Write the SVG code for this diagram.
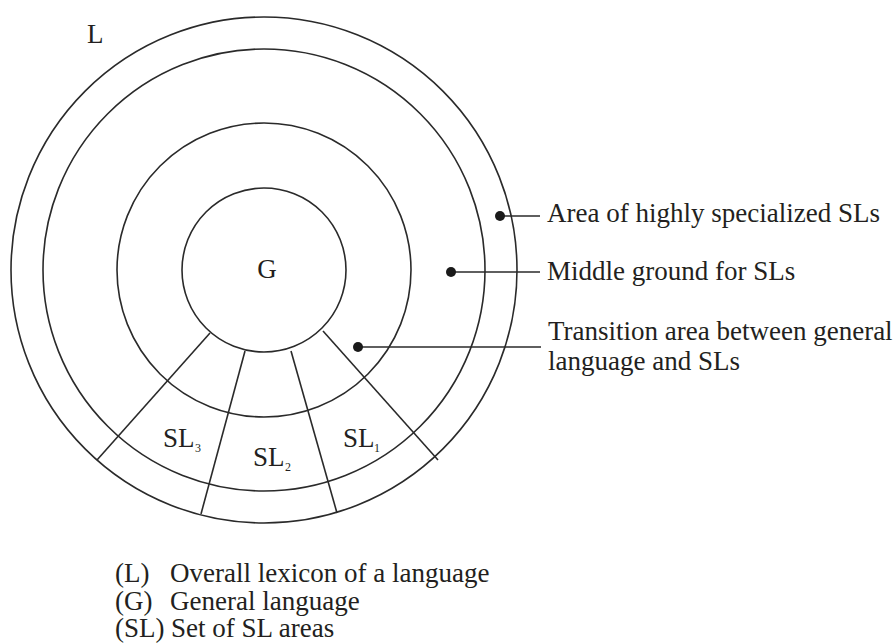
<svg xmlns="http://www.w3.org/2000/svg" width="894" height="644" viewBox="0 0 894 644">
<style>
.c{fill:none;stroke:#2a2a2a;stroke-width:1.6}
.l{stroke:#2a2a2a;stroke-width:1.6;fill:none}
.d{fill:#1a1a1a}
text{font-family:"Liberation Serif","Times New Roman",serif;font-size:27px;fill:#231f20}
.s{font-size:12px}
</style>
<rect width="894" height="644" fill="#fff"/>
<g id="rings">
<circle id="outer" class="c" cx="264" cy="270" r="253"/>
<circle id="ring2" class="c" cx="264" cy="270" r="221"/>
<circle id="ring3" class="c" cx="264" cy="270" r="147"/>
</g>
<g id="G"><circle class="c" cx="264" cy="270" r="82"/><text x="267" y="278" text-anchor="middle">G</text></g>
<g id="L"><text x="87" y="43">L</text></g>
<g id="dividers">
<line class="l" x1="210" y1="333" x2="97" y2="460"/>
<line class="l" x1="245" y1="351" x2="201" y2="514"/>
<line class="l" x1="291" y1="351" x2="337" y2="513"/>
<line class="l" x1="323" y1="331" x2="438" y2="460"/>
</g>
<g id="SL3"><text x="163" y="447">SL</text><text class="s" x="195" y="452">3</text></g>
<g id="SL2"><text x="253" y="466">SL</text><text class="s" x="285" y="471">2</text></g>
<g id="SL1"><text x="343" y="447">SL</text><text class="s" x="374" y="452">1</text></g>
<g id="connectors">
<line class="l" x1="500" y1="216" x2="540" y2="216"/><circle class="d" cx="500" cy="216" r="5"/>
<line class="l" x1="451" y1="272" x2="540" y2="272"/><circle class="d" cx="451" cy="272" r="5"/>
<line class="l" x1="358" y1="347" x2="541" y2="347"/><circle class="d" cx="358" cy="347" r="5"/>
</g>
<g id="label-area"><text x="547" y="222">Area of highly specialized SLs</text></g>
<g id="label-middle"><text x="547" y="280">Middle ground for SLs</text></g>
<g id="label-transition"><text x="548" y="340">Transition area between general</text><text x="548" y="370">language and SLs</text></g>
<g id="legend">
<text x="115" y="582">(L)</text><text x="170" y="582">Overall lexicon of a language</text>
<text x="115" y="610">(G)</text><text x="170" y="610">General language</text>
<text x="115" y="637">(SL)</text><text x="171" y="637">Set of SL areas</text>
</g>
</svg>
